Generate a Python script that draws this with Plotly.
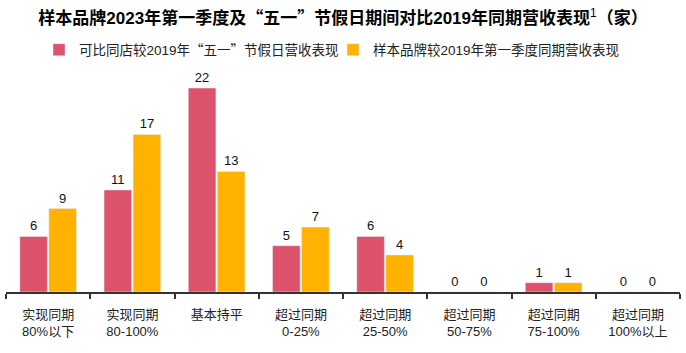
import plotly.graph_objects as go

categories = ["实现同期<br>80%以下", "实现同期<br>80-100%", "基本持平", "超过同期<br>0-25%",
              "超过同期<br>25-50%", "超过同期<br>50-75%", "超过同期<br>75-100%", "超过同期<br>100%以上"]
series1_name = "可比同店较2019年<span style=\"font-family:'Noto Sans CJK SC'\">“五一”</span>节假日营收表现"
series1 = [6, 11, 22, 5, 6, 0, 1, 0]
series2_name = "样本品牌较2019年第一季度同期营收表现"
series2 = [9, 17, 13, 7, 4, 0, 1, 0]

FONT = "Liberation Sans, Arial, Noto Sans CJK SC, sans-serif"
CJK = "'Noto Sans CJK SC'"
RED = "#DD536B"
YEL = "#FFB300"

fig = go.Figure()
fig.add_trace(go.Bar(x=categories, y=series1, name=series1_name, marker_color=RED,
                     text=series1, textposition="outside", cliponaxis=False,
                     textfont=dict(size=13, color="#111111", family=FONT),
                     legend="legend"))
fig.add_trace(go.Bar(x=categories, y=series2, name=series2_name, marker_color=YEL,
                     text=series2, textposition="outside", cliponaxis=False,
                     textfont=dict(size=13, color="#111111", family=FONT),
                     legend="legend2"))

title_text = ("<b>样本品牌2023年第一季度及<span style=\"font-family:" + CJK + "\">“五一”</span>"
              "节假日期间对比2019年同期营收表现</b><sup>1</sup><b>（家）</b>")

leg_common = dict(orientation="h", xanchor="left", xref="container",
                  y=1 - 50 / 353, yanchor="middle", yref="container",
                  font=dict(size=13.5, color="#222222", family=FONT),
                  bgcolor="rgba(0,0,0,0)")

fig.update_layout(
    width=686, height=353,
    margin=dict(l=6, r=6, t=75, b=61),
    paper_bgcolor="white", plot_bgcolor="white",
    barmode="group", bargap=0.31, bargroupgap=0.05,
    font=dict(family=FONT, color="#222222"),
    title=dict(text=title_text,
               x=0.5, xanchor="center", xref="container",
               y=1 - 18 / 353, yanchor="middle", yref="container",
               font=dict(size=17, color="#000000", family=FONT)),
    legend=dict(x=39 / 686, **leg_common),
    legend2=dict(x=333 / 686, **leg_common),
    showlegend=True,
    hovermode=False,
)
fig.update_xaxes(showline=True, linecolor="#333333", linewidth=1.5,
                 ticks="outside", tickson="boundaries", ticklen=5, tickcolor="#333333",
                 tickwidth=1.5, ticklabelstandoff=10,
                 tickfont=dict(size=13, color="#222222", family=FONT),
                 showgrid=False, range=[-0.5, 7.5])
fig.update_yaxes(visible=False, range=[0, 217 / 9.27], showgrid=False, zeroline=False)

fig.write_html("out.html")
